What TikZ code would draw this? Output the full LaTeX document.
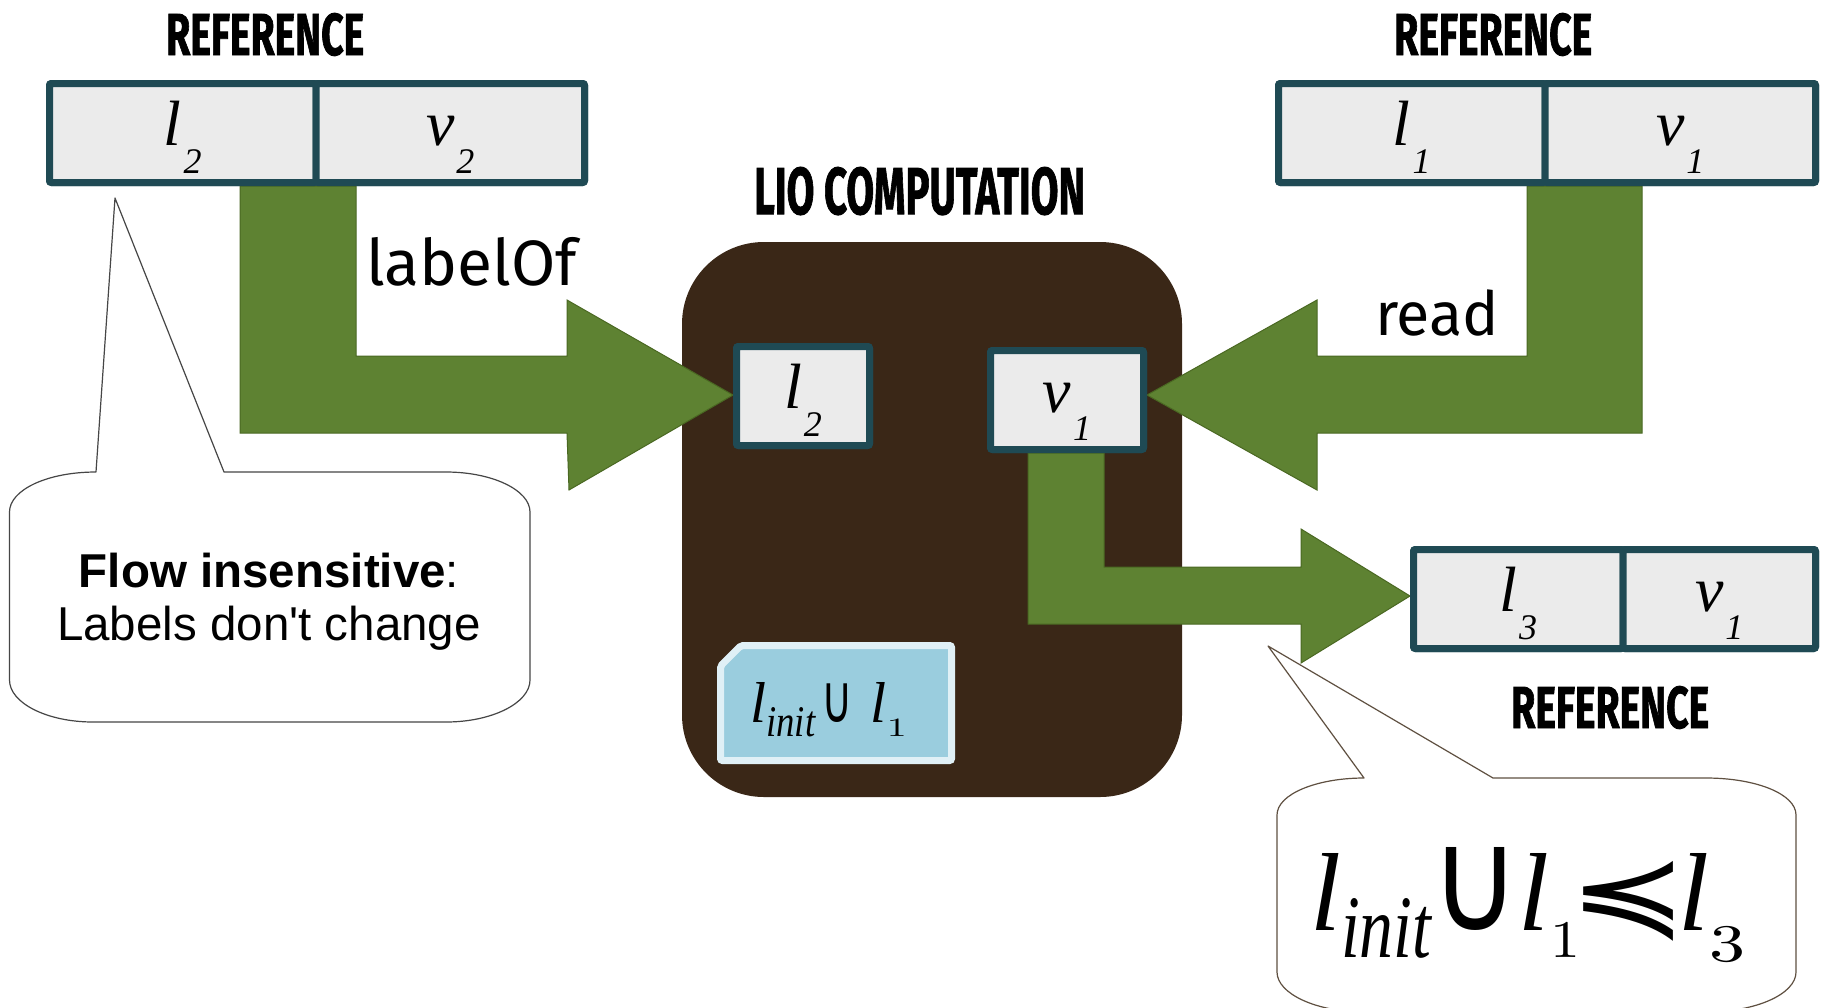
\documentclass[tikz,border=0pt]{standalone}
\usepackage{amsmath,amssymb}
\usepackage{graphicx}
\usepackage{fontspec}
\setmainfont{Liberation Serif}
\newfontfamily\cellfont{Liberation Serif}
\newfontfamily\calloutfont{Liberation Sans}
\newfontfamily\opfont{Fira Sans}
\newfontfamily\headfont{Fira Sans}[FakeBold=1.5]
\newfontfamily\relfont{DejaVu Sans}

\definecolor{refedge}{RGB}{31,74,84}
\definecolor{cellgray}{RGB}{235,235,235}
\definecolor{liobrown}{RGB}{58,39,23}
\definecolor{flowgreen}{RGB}{94,130,50}
\definecolor{flowedge}{RGB}{74,104,34}
\definecolor{noteblue}{RGB}{154,205,222}
\definecolor{noteedge}{RGB}{224,240,246}
\definecolor{bubbleedge}{RGB}{70,70,70}
\definecolor{bubbleedgeb}{RGB}{95,80,65}

% a label/value symbol with a dropped subscript digit
\newcommand\cellsym[2]{{\cellfont\itshape\fontsize{64}{64}\selectfont #1\kern2pt\raisebox{-28pt}{\fontsize{36}{36}\selectfont #2}}}
% condensed heading squeezed into a given width and cap height
\newcommand\headtext[3]{\resizebox{#1}{#2}{\headfont\bfseries #3}}
% an italic label letter of a given height
\newcommand\lab[1]{\resizebox{!}{#1}{\cellfont\itshape l}}
% operator glyphs sized to a given box
\newcommand\opglyph[3]{\resizebox*{#1}{#2}{\relfont #3}}

\tikzset{
  cell/.style={draw=refedge, fill=cellgray, line width=7pt, rounded corners=2pt,
    minimum height=99pt, inner sep=0pt, text height=52pt, text depth=28pt},
  flow/.style={fill=flowgreen, draw=flowedge, line width=1pt, line join=miter},
  headline/.style={inner sep=0pt, anchor=base west},
  bubble/.style={fill=white, line width=1.2pt, line join=round},
  note/.style={fill=noteblue, draw=noteedge, line width=7pt, rounded corners=2pt},
  lio/.style={fill=liobrown, rounded corners=82pt, minimum width=500pt, minimum height=555pt, inner sep=0pt},
}

\begin{document}
\begin{tikzpicture}[x=1pt, y=-1pt]
\useasboundingbox (0,0) rectangle (1822,1007);
\clip (0,0) rectangle (1822,1007);
\fill[white] (0,0) rectangle (1822,1007);

% the LIO computation
\node[lio] (lio) at (932,519.5) {};
\node[headline] (liotitle) at (754,214) {\headtext{331pt}{47pt}{LIO COMPUTATION}};

% references
\node[headline] (ref2title) at (166,55) {\headtext{198pt}{42pt}{REFERENCE}};
\node[headline] (ref1title) at (1394,55) {\headtext{198pt}{42pt}{REFERENCE}};
\node[headline] (ref3title) at (1511,728) {\headtext{198pt}{42pt}{REFERENCE}};

% cells (placed first so arrows can aim at them)
\node[cell, minimum width=133pt] (l2in) at (803,396) {};
\node[cell, minimum width=153pt] (v1in) at (1067,400) {};
\node[cell, minimum width=266.5pt] (r2l) at (182.75,133) {};
\node[cell, minimum width=268.5pt] (r2r) at (450.25,133) {};
\node[cell, minimum width=266.5pt] (r1l) at (1411.75,133) {};
\node[cell, minimum width=270.5pt] (r1r) at (1680.25,133) {};
\node[cell, minimum width=209.5pt] (r3l) at (1518.25,599) {};
\node[cell, minimum width=192.5pt] (r3r) at (1719.25,599) {};

% block arrows
\draw[flow] (240,186) -- (356,186) -- (356,356) -- (567,356) -- (567,300)
  -- ([yshift=1pt]l2in.west) -- (569,490) -- (567,433) -- (240,433) -- cycle;
\draw[flow] (1527,186) -- (1642,186) -- (1642,433) -- (1317,433) -- (1317,490)
  -- ([yshift=5pt]v1in.east) -- (1317,300) -- (1317,356) -- (1527,356) -- cycle;
\draw[flow] (1028,453) -- (1104,453) -- (1104,567) -- (1301,567) -- (1301,529)
  -- ([yshift=3pt]r3l.west) -- (1301,663) -- (1301,624) -- (1028,624) -- cycle;

% cells redrawn on top of the arrow stems, with their symbols
\foreach \c/\w/\s/\d in {l2in/133/l/2, v1in/153/v/1, r2l/266.5/l/2, r2r/268.5/v/2,
    r1l/266.5/l/1, r1r/270.5/v/1, r3l/209.5/l/3, r3r/192.5/v/1}
  \node[cell, minimum width=\w pt] at (\c) {\cellsym{\s}{\d}};

% operation names
\node[headline] (labelof) at (366,285) {\resizebox{211pt}{!}{\opfont labelOf}};
\node[headline] (readop) at (1375,335) {\resizebox{124pt}{!}{\opfont read}};

% current label
\draw[note] (720.5,666) -- (741,645.5) -- (951.5,645.5) -- (951.5,760.5) -- (720.5,760.5) -- cycle;
\node[headline] (curlabel) at (750,722) {\lab{40pt}\kern0pt
  \raisebox{-14pt}{\resizebox{49pt}{29pt}{\cellfont\itshape init}}\kern6.7pt
  \opglyph{31.5pt}{38.7pt}{∪}\kern17.5pt
  \lab{40pt}\kern0pt
  \raisebox{-14pt}{\resizebox{20pt}{17pt}{$1$}}};

% callout: flow insensitivity
\draw[bubble, draw=bubbleedge] (96,472) -- (115,198) -- (224,472) -- (446,472)
  .. controls (492,472) and (530,490) .. (530,512) -- (530,680)
  .. controls (530,703) and (492,722) .. (446,722) -- (93,722)
  .. controls (47,722) and (9.5,703) .. (9.5,680) -- (9.5,512)
  .. controls (9.5,490) and (47,472) .. (96,472) -- cycle;
\node[anchor=base, inner sep=0pt] (flow1) at (269,587)
  {\calloutfont\fontsize{47.5}{53}\selectfont\textbf{Flow insensitive}:};
\node[anchor=base, inner sep=0pt] (flow2) at (269,640)
  {\calloutfont\fontsize{47.5}{53}\selectfont Labels don't change};

% callout: label ordering
\draw[bubble, draw=bubbleedgeb] (1364,778) -- (1268,646) -- (1493,778) -- (1706,778)
  .. controls (1756,778) and (1796,794) .. (1796,815) -- (1796,972)
  .. controls (1796,994) and (1756,1012) .. (1706,1012) -- (1364,1012)
  .. controls (1317,1012) and (1277,994) .. (1277,972) -- (1277,815)
  .. controls (1277,794) and (1317,778) .. (1364,778) -- cycle;
\node[headline] (order) at (1310,930) {\lab{77pt}\kern0pt
  \raisebox{-27pt}{\resizebox{90pt}{59pt}{\cellfont\itshape init}}\kern-1pt
  \opglyph{90pt}{83pt}{∪}\kern-2pt
  \lab{77pt}\kern1pt
  \raisebox{-27pt}{\resizebox{30pt}{34pt}{$1$}}\kern-12pt
  \opglyph{120pt}{80pt}{≼}\kern-10pt
  \lab{77pt}\kern1pt
  \raisebox{-31pt}{\resizebox{36pt}{34pt}{$3$}}};
\end{tikzpicture}
\end{document}
